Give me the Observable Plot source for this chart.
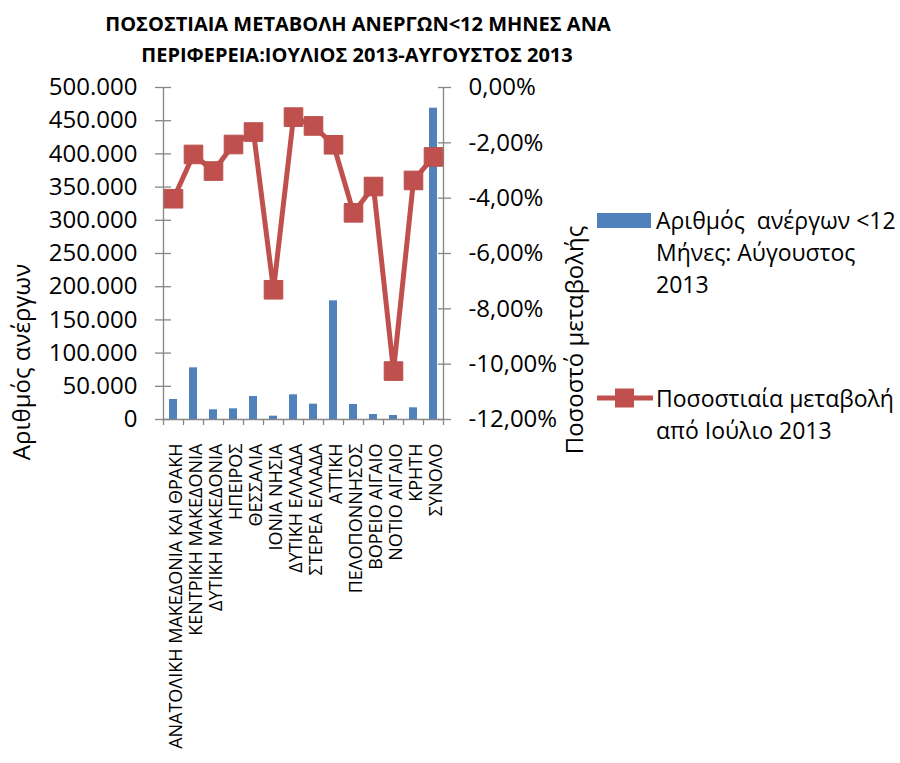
<!DOCTYPE html>
<html>
<head>
<meta charset="utf-8">
<script src="https://cdn.jsdelivr.net/npm/d3@7"></script>
<script src="https://cdn.jsdelivr.net/npm/@observablehq/plot@0.6"></script>
<style>
  html, body { margin: 0; padding: 0; background: #fff; }
  #wrap { position: relative; width: 900px; height: 763px; font-family: "Open Sans", sans-serif; color: #000; overflow: hidden; }
  #title { position: absolute; left: 0; top: 0; width: 900px; height: 72px; z-index: 2; }
  #title div { position: absolute; font-weight: bold; font-size: 20px; white-space: nowrap; transform: translate(-50%, -50%); }
  #chart { position: absolute; left: 0; top: 30px; }
  .ylab { position: absolute; font-size: 24px; white-space: nowrap; transform: translate(-50%, -50%) rotate(-90deg); }
  .leg { position: absolute; font-size: 23px; line-height: 32px; white-space: nowrap; }
  .sw { position: absolute; }
</style>
</head>
<body>
<div id="wrap">
  <div id="title">
    <div style="left:358px; top:23px;">ΠΟΣΟΣΤΙΑΙΑ ΜΕΤΑΒΟΛΗ ΑΝΕΡΓΩΝ&lt;12 ΜΗΝΕΣ ΑΝΑ</div>
    <div style="left:357px; top:54px;">ΠΕΡΙΦΕΡΕΙΑ:ΙΟΥΛΙΟΣ 2013-ΑΥΓΟΥΣΤΟΣ 2013</div>
  </div>
  <div id="chart"></div>
  <div class="ylab" style="left:20px; top:362px;">Αριθμός ανέργων</div>
  <div class="ylab" style="left:573px; top:340px;">Ποσοστό μεταβολής</div>
  <svg class="sw" style="left:597px; top:213px;" width="54" height="15"><rect x="0" y="0" width="54" height="15" fill="#4F81BD"/></svg>
  <div class="leg" style="left:656px; top:204px;">Αριθμός&nbsp; ανέργων &lt;12<br>Μήνες: Αύγουστος<br>2013</div>
  <svg class="sw" style="left:597px; top:387px;" width="56" height="22"><line x1="0" y1="11" x2="56" y2="11" stroke="#C0504D" stroke-width="5"/><rect x="18" y="1.5" width="19" height="19" fill="#C0504D"/></svg>
  <div class="leg" style="left:656px; top:382px;">Ποσοστιαία μεταβολή<br>από Ιούλιο 2013</div>
</div>
<script>
const categories = [
  "ΑΝΑΤΟΛΙΚΗ ΜΑΚΕΔΟΝΙΑ ΚΑΙ ΘΡΑΚΗ",
  "ΚΕΝΤΡΙΚΗ ΜΑΚΕΔΟΝΙΑ",
  "ΔΥΤΙΚΗ ΜΑΚΕΔΟΝΙΑ",
  "ΗΠΕΙΡΟΣ",
  "ΘΕΣΣΑΛΙΑ",
  "ΙΟΝΙΑ ΝΗΣΙΑ",
  "ΔΥΤΙΚΗ ΕΛΛΑΔΑ",
  "ΣΤΕΡΕΑ ΕΛΛΑΔΑ",
  "ΑΤΤΙΚΗ",
  "ΠΕΛΟΠΟΝΝΗΣΟΣ",
  "ΒΟΡΕΙΟ ΑΙΓΑΙΟ",
  "ΝΟΤΙΟ ΑΙΓΑΙΟ",
  "ΚΡΗΤΗ",
  "ΣΥΝΟΛΟ"
];
const unemployedAug2013 = [30100, 77800, 14600, 16100, 34600, 5000, 37200, 23100, 178700, 22600, 7500, 6000, 17600, 468800];
const pctChange = [-4.02, -2.42, -3.02, -2.06, -1.61, -7.31, -1.07, -1.39, -2.07, -4.53, -3.58, -10.25, -3.36, -2.51];
const leftTicks = [0, 50000, 100000, 150000, 200000, 250000, 300000, 350000, 400000, 450000, 500000];
const rightTicks = [0, -2, -4, -6, -8, -10, -12];

const locale = d3.formatLocale({decimal: ",", thousands: ".", grouping: [3], currency: ["", "€"], minus: "-"});
const fmtCount = locale.format(",");
const fmtPct = locale.format(".2f");

const Ymax = 500000, Pmin = -12, Pmax = 0;
const toCount = p => (p - Pmin) / (Pmax - Pmin) * Ymax;
const fromCount = v => v / Ymax * (Pmax - Pmin) + Pmin;

const data = categories.map((c, i) => ({region: c, count: unemployedAug2013[i], pct: pctChange[i]}));

const axisColor = "#868686";

const chart = Plot.plot({
  width: 900,
  height: 733,
  marginLeft: 163,
  marginRight: 457,
  marginTop: 57,
  marginBottom: 344,
  style: {fontFamily: "Open Sans, sans-serif", fontSize: "24px", color: "#000", background: "transparent", overflow: "visible"},
  x: {type: "band", domain: categories, padding: 0, axis: null},
  y: {domain: [0, Ymax], axis: null},
  marks: [
    Plot.barY(data, {x: "region", y: "count", fill: "#4F81BD", insetLeft: 6, insetRight: 6}),
    // axis lines
    Plot.ruleY([0], {stroke: axisColor, strokeWidth: 1.3}),
    Plot.ruleX([categories[0]], {dx: -10, stroke: axisColor, strokeWidth: 1.3}),
    Plot.ruleX([categories[categories.length - 1]], {dx: 10, stroke: axisColor, strokeWidth: 1.3}),
    // left axis
    Plot.axisY({anchor: "left", ticks: leftTicks, tickFormat: fmtCount, tickSize: 8, tickPadding: 18, stroke: axisColor, strokeWidth: 1.3, fontSize: 24, fill: "#000", label: null}),
    Plot.axisY({anchor: "left", ticks: leftTicks, tickFormat: () => "", tickSize: -8, stroke: axisColor, strokeWidth: 1.3, label: null}),
    // right axis
    Plot.axisY({anchor: "right", ticks: rightTicks.map(toCount), tickFormat: v => fmtPct(fromCount(v)) + "%", tickSize: 7, tickPadding: 18, stroke: axisColor, strokeWidth: 1.3, fontSize: 24, fill: "#000", label: null}),
    Plot.axisY({anchor: "right", ticks: rightTicks.map(toCount), tickFormat: () => "", tickSize: -6, stroke: axisColor, strokeWidth: 1.3, label: null}),
    // bottom axis: boundary ticks
    Plot.axisX({anchor: "bottom", tickSize: 6, dx: -10, tickFormat: () => "", stroke: axisColor, strokeWidth: 1.3, label: null}),
    Plot.axisX({anchor: "bottom", ticks: [categories[categories.length - 1]], tickSize: 6, dx: 10, tickFormat: () => "", stroke: axisColor, strokeWidth: 1.3, label: null}),
    // bottom axis labels
    Plot.axisX({anchor: "bottom", tickSize: 0, tickPadding: 24, tickRotate: -90, fontSize: 18, fill: "#000", label: null, dx: 3}),
    // line series on secondary scale
    Plot.line(data, {x: "region", y: d => toCount(d.pct), stroke: "#C0504D", strokeWidth: 5, strokeLinejoin: "round"}),
    Plot.dot(data, {x: "region", y: d => toCount(d.pct), symbol: "square", r: 10.5, fill: "#C0504D", stroke: "#B9504D", strokeWidth: 1})
  ]
});
document.getElementById("chart").appendChild(chart);
</script>
</body>
</html>
